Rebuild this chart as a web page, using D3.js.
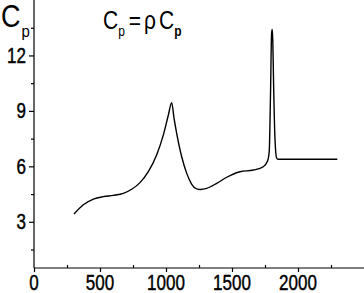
<!DOCTYPE html>
<html>
<head>
<meta charset="utf-8">
<script src="https://cdn.jsdelivr.net/npm/d3@7"></script>
<style>
  body { margin: 0; background: #fff; }
  text { font-family: "Liberation Sans", Arial, sans-serif; fill: #000; }
  .tick-label { stroke: #000; stroke-width: 0.35px; }
</style>
</head>
<body>
<svg id="cp-chart" width="364" height="293"></svg>
<script>
(function(){

  // temperature (x) and Cp (y)
  var temps = [303, 374, 450, 525, 601, 677, 740, 803, 866, 929, 980, 1018, 1043, 1061, 1081, 1119, 1157, 1195, 1232, 1262, 1308, 1384, 1460, 1561, 1662, 1737, 1770, 1782, 1792, 1800, 1805, 1809, 1815, 1825, 1838, 1848, 2298]
  var cps   = [3.42, 3.92, 4.23, 4.36, 4.43, 4.54, 4.76, 5.12, 5.71, 6.61, 7.70, 8.78, 9.45, 8.6, 7.79, 6.52, 5.62, 5.03, 4.78, 4.75, 4.81, 5.08, 5.41, 5.71, 5.80, 5.98, 6.3, 6.8, 10.0, 13.2, 13.4, 12.8, 10.5, 7.6, 6.45, 6.38, 6.38]

  var xMajor = [0, 500, 1000, 1500, 2000]
  var xMinor = [250, 750, 1250, 1750, 2250]
  var yMajor = [3, 6, 9, 12]
  var yMinor = [1.5, 4.5, 7.5, 10.5, 13.5]

  var svg = d3.select('#cp-chart'),
      width = +svg.attr("width"),
      height = +svg.attr("height");

  var x = d3.scaleLinear().domain([0, 2500]).range([34, 364])
  var y = d3.scaleLinear().domain([0.5, 15]).range([268, 0])

  var stretch = 1.25 // text in the figure is tall and narrow

  // axes
  svg.append('g')
    .attr("transform", "translate(0,268)")
    .call(d3.axisBottom(x).tickValues(xMajor).tickSize(4).tickFormat(""))
    .call(g => g.select(".domain").attr("d", "M34,0H364"))
  svg.append('g')
    .attr("transform", "translate(0,268)")
    .call(d3.axisTop(x).tickValues(xMinor).tickSize(3).tickFormat(""))
    .call(g => g.select(".domain").remove())

  svg.append('g')
    .attr("transform", "translate(34,0)")
    .call(d3.axisLeft(y).tickValues(yMajor).tickSize(5).tickFormat(""))
    .call(g => g.select(".domain").attr("d", "M0,268V0"))
  svg.append('g')
    .attr("transform", "translate(34,0)")
    .call(d3.axisLeft(y).tickValues(yMinor).tickSize(3).tickFormat(""))
    .call(g => g.select(".domain").remove())

  svg.selectAll(".domain, .tick line").attr("stroke", "#000").attr("stroke-width", 1.2)

  // tick labels
  svg.append('g').selectAll('text')
    .data(xMajor).enter().append('text')
    .attr("class", "tick-label")
    .attr("transform", d => "translate(" + x(d) + ",290) scale(1," + stretch + ")")
    .attr("text-anchor", "middle")
    .style("font-size", "17px")
    .text(d => d)

  svg.append('g').selectAll('text')
    .data(yMajor).enter().append('text')
    .attr("class", "tick-label")
    .attr("transform", d => "translate(26," + (y(d) + 7.5) + ") scale(1," + stretch + ")")
    .attr("text-anchor", "end")
    .style("font-size", "17px")
    .text(d => d)

  // axis title
  var yt = svg.append('text')
    .attr("transform", "translate(1,27) scale(1,1.15)")
    .style("font-size", "27px")
  yt.append('tspan').text("C")
  yt.append('tspan').attr("dx", 1).attr("dy", 9).style("font-size", "15px").text("p")

  // formula
  var f = svg.append('text')
    .attr("transform", "translate(103,29) scale(1,1.2)")
    .style("font-size", "21px")
  f.append('tspan').text("C")
  f.append('tspan').attr("dy", 6).style("font-size", "12px").text("p")
  f.append('tspan').attr("dx", 4).attr("dy", -6).text("=")
  f.append('tspan').attr("dx", 3).text("ρ")
  f.append('tspan').attr("dx", 3).text("C")
  f.append('tspan').attr("dy", 6).style("font-size", "12px").style("font-weight", "bold").text("p")

  // curve
  var lineGenerator = d3.line()
    .x(d => x(d[0]))
    .y(d => y(d[1]))
    .curve(d3.curveMonotoneX)

  svg.append('path')
    .datum(temps.map((t, i) => [t, cps[i]]))
    .attr("d", lineGenerator)
    .attr("fill", "none")
    .attr("stroke", "#000")
    .attr("stroke-width", 1.4)
})()
</script>
</body>
</html>
